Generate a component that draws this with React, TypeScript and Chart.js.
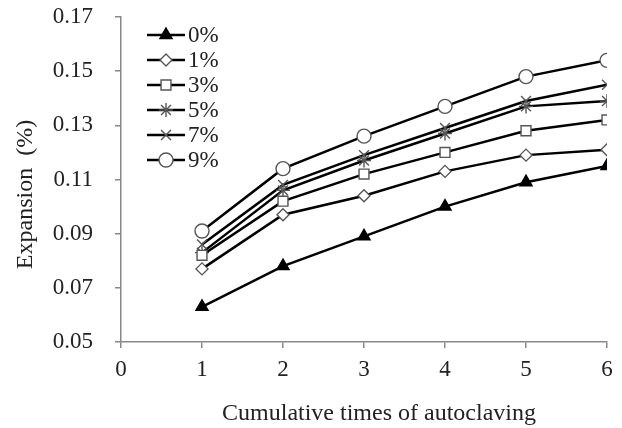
import React, { useEffect, useRef } from "react";
import { Chart, registerables } from "chart.js";
import { drawPoint } from "chart.js/helpers";

Chart.register(...registerables);

const cycles = [1, 2, 3, 4, 5, 6];
const seriesLabels = ["0%", "1%", "3%", "5%", "7%", "9%"];
const s0 = [0.063, 0.078, 0.089, 0.1, 0.109, 0.115];
const s1 = [0.077, 0.097, 0.104, 0.113, 0.119, 0.121];
const s3 = [0.082, 0.102, 0.112, 0.12, 0.128, 0.132];
const s5 = [0.083, 0.106, 0.117, 0.127, 0.137, 0.139];
const s7 = [0.086, 0.108, 0.119, 0.129, 0.139, 0.145];
const s9 = [0.091, 0.114, 0.126, 0.137, 0.148, 0.154];
const seriesValues = [s0, s1, s3, s5, s7, s9];
const markerStyles = ["triangle", "rectRot", "rect", "star", "crossRot", "circle"];
const markerRadius = [7, 6, 7, 7, 7, 7];
const markerFill = ["#000", "#fff", "#fff", "#fff", "#fff", "#fff"];

const FONT = "'Liberation Serif', 'Times New Roman', serif";

const legendPlugin = {
  id: "lineMarkerLegend",
  afterDraw(chart: any) {
    const ctx = chart.ctx;
    const area = chart.chartArea;
    const x0 = area.left + 26;
    const x1 = x0 + 38;
    ctx.save();
    chart.data.datasets.forEach((ds: any, i: number) => {
      const y = area.top + 18 + i * 25;
      ctx.strokeStyle = "#000";
      ctx.lineWidth = 2.5;
      ctx.beginPath();
      ctx.moveTo(x0, y);
      ctx.lineTo(x1, y);
      ctx.stroke();
      ctx.fillStyle = ds.pointBackgroundColor;
      ctx.strokeStyle = ds.pointBorderColor;
      ctx.lineWidth = ds.pointBorderWidth;
      drawPoint(ctx, { pointStyle: ds.pointStyle, radius: ds.pointRadius, borderWidth: ds.pointBorderWidth, rotation: 0 }, (x0 + x1) / 2, y);
      ctx.fillStyle = "#222";
      ctx.font = `23px ${FONT}`;
      ctx.textAlign = "left";
      ctx.textBaseline = "middle";
      ctx.fillText(ds.label, x1 + 3, y + 1);
    });
    ctx.restore();
  },
};

export default function App() {
  const ref = useRef<HTMLCanvasElement | null>(null);
  useEffect(() => {
    document.body.style.margin = "0";
    const datasets = seriesValues.map((vals, i) => ({
      label: seriesLabels[i],
      data: vals.map((v, j) => ({ x: cycles[j], y: v })),
      borderColor: "#000",
      borderWidth: 2.5,
      pointStyle: markerStyles[i],
      pointRadius: markerRadius[i],
      pointBackgroundColor: markerFill[i],
      pointBorderColor: i === 0 ? "#000" : "#555",
      pointBorderWidth: 1.4,
      tension: 0,
    }));
    const chart = new Chart(ref.current as HTMLCanvasElement, {
      type: "line",
      data: { datasets },
      plugins: [legendPlugin],
      options: {
        animation: false,
        responsive: false,
        layout: { padding: { top: 0, right: 15, left: 0, bottom: 0 } },
        plugins: { legend: { display: false }, tooltip: { enabled: false } },
        scales: {
          x: {
            type: "linear",
            min: 0,
            max: 6,
            ticks: { stepSize: 1, color: "#222", font: { family: FONT, size: 23 }, padding: 8 },
            grid: { drawOnChartArea: false, drawTicks: true, tickLength: 6, color: "#888", lineWidth: 1.5 },
            border: { color: "#888", width: 1.5 },
            title: {
              display: true,
              text: "     Cumulative times of autoclaving",
              color: "#222",
              font: { family: FONT, size: 24 },
              padding: { top: 0, bottom: 0 },
            },
            afterFit(scale: any) {
              scale.height = 86;
            },
          },
          y: {
            min: 0.05,
            max: 0.17,
            ticks: {
              stepSize: 0.02,
              color: "#222",
              font: { family: FONT, size: 23 },
              padding: 22,
              callback: (v: any) => Number(v).toFixed(2),
            },
            grid: { drawOnChartArea: false, drawTicks: true, tickLength: 6, color: "#888", lineWidth: 1.5 },
            border: { color: "#888", width: 1.5 },
            title: {
              display: true,
              text: "Expansion  (%)     ",
              color: "#222",
              font: { family: FONT, size: 24 },
              padding: { top: 11, bottom: 0 },
            },
            afterFit(scale: any) {
              scale.width = 121;
              scale.paddingTop = 17;
              scale.paddingBottom = 14;
            },
          },
        },
      },
    } as any);
    return () => chart.destroy();
  }, []);
  return (
    <div style={{ width: 622, height: 428, background: "#fff" }}>
      <canvas ref={ref} width={622} height={428} />
    </div>
  );
}
